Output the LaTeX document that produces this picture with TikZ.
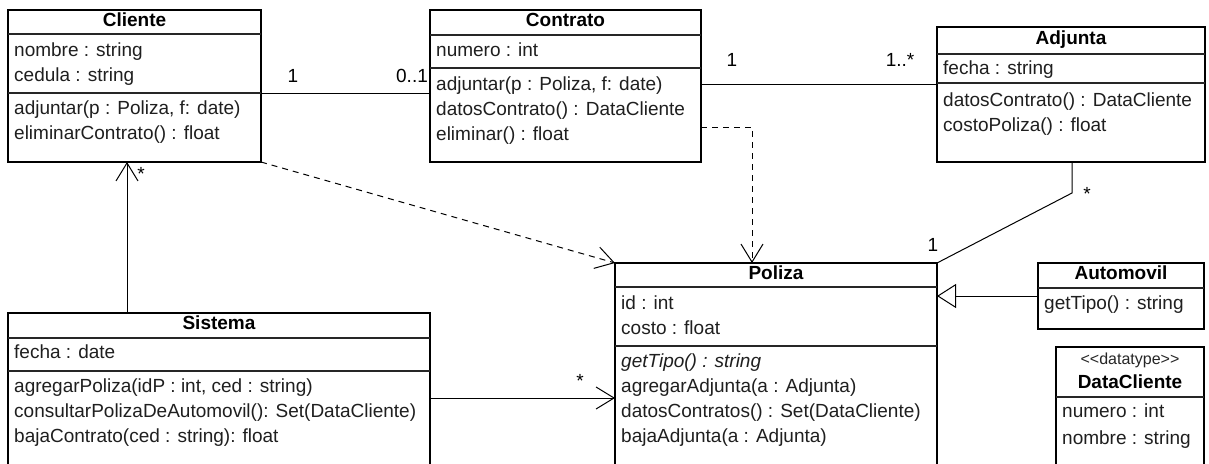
\documentclass[tikz,border=0pt]{standalone}
\usepackage{fontspec}
\setmainfont{Liberation Sans}
\usetikzlibrary{arrows.meta}

% class box: name, left x, top y, width, height
\newcommand\classbox[5]{\node[box, minimum width=#4pt, minimum height=#5pt] (#1) at (#2,#3) {};}
% compartment separator across box #1 at height #2
\newcommand\compsep[2]{\draw[sepline] (#1.west |- 0,#2) -- (#1.east |- 0,#2);}

\begin{document}
\begin{tikzpicture}[x=1pt, y=-1pt,
  font=\fontsize{19}{25}\selectfont,
  box/.style={draw=black, line width=1.2pt, fill=white, inner sep=0pt, outer sep=0pt, anchor=north west},
  sepline/.style={line width=1.8pt, draw=black!85},
  member/.style={anchor=west, inner sep=0pt, text height=13pt, text depth=4pt, text=black!88},
  title/.style={inner sep=0pt, text height=13pt, text depth=4pt, font=\fontsize{19}{25}\selectfont\bfseries, text=black},
  stereo/.style={inner sep=0pt, text height=11pt, text depth=3pt, font=\fontsize{16}{20}\selectfont, text=black!85},
  mult/.style={inner sep=0pt, text height=13pt, text depth=4pt, text=black},
  assoc/.style={line width=1pt, draw=black},
  nav/.style={assoc, -{Straight Barb[length=18pt, width=22pt, line width=1pt]}},
  dep/.style={assoc, dash pattern=on 6pt off 5pt, -{Straight Barb[length=18pt, width=22pt, line width=1pt]}},
  gen/.style={assoc, -{Triangle[open, length=19pt, width=24pt, line width=1pt, fill=white]}}
]
\useasboundingbox (0,0) rectangle (1209,463);
\clip (0,0) rectangle (1209,463);

% ---------- Cliente ----------
\classbox{cliente}{8}{10}{253}{152}
\compsep{cliente}{34}
\compsep{cliente}{93}
\node[title] (cliente-t) at (cliente.north |- 0,22) {Cliente};
\node[member] (cliente-a1) at (14,52) {nombre : string};
\node[member] (cliente-a2) at (14,77) {cedula : string};
\node[member] (cliente-o1) at (14,110) {adjuntar(p : Poliza, f: date)};
\node[member] (cliente-o2) at (14,135) {eliminarContrato() : float};

% ---------- Contrato ----------
\classbox{contrato}{430}{10}{271}{152}
\compsep{contrato}{35}
\compsep{contrato}{68}
\node[title] (contrato-t) at (contrato.north |- 0,22) {Contrato};
\node[member] (contrato-a1) at (436,52) {numero : int};
\node[member] (contrato-o1) at (436,86) {adjuntar(p : Poliza, f: date)};
\node[member] (contrato-o2) at (436,111) {datosContrato() : DataCliente};
\node[member] (contrato-o3) at (436,136) {eliminar() : float};

% ---------- Adjunta ----------
\classbox{adjunta}{937}{27}{268}{135}
\compsep{adjunta}{54}
\compsep{adjunta}{83}
\node[title] (adjunta-t) at (adjunta.north |- 0,40) {Adjunta};
\node[member] (adjunta-a1) at (943,70) {fecha : string};
\node[member] (adjunta-o1) at (943,102) {datosContrato() : DataCliente};
\node[member] (adjunta-o2) at (943,127) {costoPoliza() : float};

% ---------- Poliza ----------
\classbox{poliza}{615}{263}{322}{217}
\compsep{poliza}{287}
\compsep{poliza}{346}
\node[title] (poliza-t) at (poliza.north |- 0,275) {Poliza};
\node[member] (poliza-a1) at (621,305) {id : int};
\node[member] (poliza-a2) at (621,330) {costo : float};
\node[member, font=\fontsize{19}{25}\selectfont\itshape] (poliza-o1) at (621,363) {getTipo() : string};
\node[member] (poliza-o2) at (621,388) {agregarAdjunta(a : Adjunta)};
\node[member] (poliza-o3) at (621,413) {datosContratos() : Set(DataCliente)};
\node[member] (poliza-o4) at (621,438) {bajaAdjunta(a : Adjunta)};

% ---------- Sistema ----------
\classbox{sistema}{8}{313}{422}{167}
\compsep{sistema}{338}
\compsep{sistema}{371}
\node[title] (sistema-t) at (sistema.north |- 0,325) {Sistema};
\node[member] (sistema-a1) at (14,354) {fecha : date};
\node[member] (sistema-o1) at (14,388) {agregarPoliza(idP : int, ced : string)};
\node[member] (sistema-o2) at (14,413) {consultarPolizaDeAutomovil(): Set(DataCliente)};
\node[member] (sistema-o3) at (14,438) {bajaContrato(ced : string): float};

% ---------- Automovil ----------
\classbox{automovil}{1038}{263}{166}{66}
\compsep{automovil}{288}
\node[title] (automovil-t) at (automovil.north |- 0,275) {Automovil};
\node[member] (automovil-o1) at (1044,305) {getTipo() : string};

% ---------- DataCliente ----------
\classbox{datacliente}{1056}{347}{148}{133}
\compsep{datacliente}{397}
% kerns keep the font mapping from turning << and >> into guillemets
\node[stereo] (datacliente-s) at (datacliente.north |- 0,360) {<\kern0pt<datatype>\kern0pt>};
\node[title] (datacliente-t) at (datacliente.north |- 0,384) {DataCliente};
\node[member] (datacliente-a1) at (1062,413) {numero : int};
\node[member] (datacliente-a2) at (1062,440) {nombre : string};

% ---------- relations ----------
% Cliente -- Contrato
\draw[assoc] (cliente.east |- 0,93) -- (contrato.west |- 0,93);
\node[mult] (m-cc1) at (293,78) {1};
\node[mult] (m-cc2) at (412,78) {0..1};

% Contrato -- Adjunta
\draw[assoc] (contrato.east |- 0,84) -- (adjunta.west |- 0,84);
\node[mult] (m-ca1) at (732,62) {1};
\node[mult] (m-ca2) at (900,62) {1..*};

% Contrato uses Poliza
\coordinate (bend-cp) at (752,127);
\draw[dep] (contrato.east |- bend-cp) -- (bend-cp) -- (poliza.north -| bend-cp);

% Cliente uses Poliza
\draw[dep] (cliente.south east) -- (poliza.north west);

% Sistema navigates to Cliente
\draw[nav] (sistema.north -| 127,0) -- (cliente.south -| 127,0);
\node[mult] (m-sc) at (141,176) {*};

% Sistema navigates to Poliza
\draw[nav] (sistema.east |- 0,398) -- (poliza.west |- 0,398);
\node[mult] (m-sp) at (580,383) {*};

% Adjunta -- Poliza
\coordinate (bend-ap) at (1072,193);
\draw[assoc] (adjunta.south -| bend-ap) -- (bend-ap) -- (poliza.north east);
\node[mult] (m-ap1) at (1087,196) {*};
\node[mult] (m-ap2) at (933,247) {1};

% Automovil specializes Poliza
\draw[gen] (automovil.west |- 0,296) -- (poliza.east |- 0,296);
\end{tikzpicture}
\end{document}
